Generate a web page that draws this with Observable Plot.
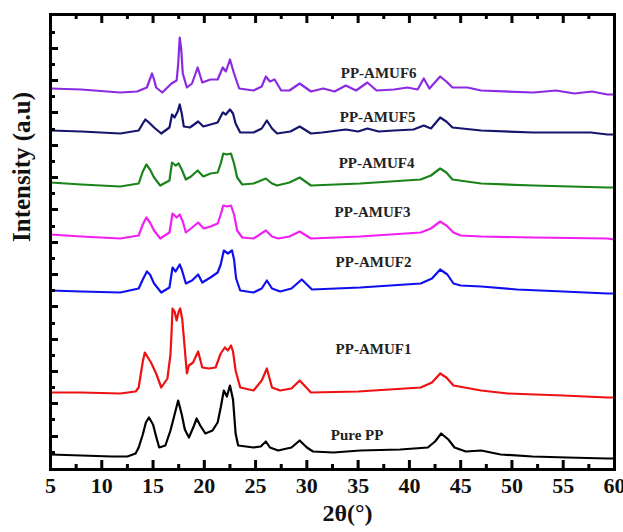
<!DOCTYPE html>
<html><head><meta charset="utf-8">
<script src="https://cdn.jsdelivr.net/npm/d3@7"></script>
<script src="https://cdn.jsdelivr.net/npm/@observablehq/plot@0.6"></script>
<style>body{margin:0;background:#fff;}</style>
</head><body><div id="chart"></div>
<script>
// 2θ (deg) vs intensity (a.u., stacked as displayed)
const purePP = [[5,15],[8,14],[11,13],[12.5,13],[13.3,16],[13.6,22],[14.0,35],[14.3,47],[14.6,52],[15.0,45],[15.3,33],[15.6,22],[16.2,24],[16.7,39],[17.1,55],[17.45,69],[17.8,55],[18.1,40],[18.5,32],[19.0,44],[19.25,51],[19.6,44],[20.1,36],[20.8,39],[21.3,47],[21.6,62],[21.9,79],[22.2,73],[22.5,84],[22.8,70],[23.05,36],[23.3,24],[24.8,22],[25.5,23],[26.0,28],[26.4,22],[27.2,19],[28.5,22],[29.3,29],[30.0,22],[30.6,18],[32.6,17],[35.2,19],[39.1,20],[41.8,22],[42.5,28],[43.1,36],[43.8,30],[44.4,22],[45.5,18],[47.0,19],[48.9,15],[52,13],[55.4,12],[59.3,11],[60,11]];
const amuf1 = [[5,77],[8,77],[11.8,76],[13.3,78],[13.6,82],[14.0,108],[14.2,117],[14.5,112],[14.8,107],[15.3,96],[15.8,82],[16.4,91],[16.7,115],[16.8,136],[16.9,161],[17.1,158],[17.3,149],[17.5,158],[17.65,161],[17.85,150],[18.0,132],[18.3,96],[18.5,104],[18.9,107],[19.4,118],[19.8,102],[20.45,101],[21.1,102],[21.6,116],[22.0,122],[22.3,119],[22.6,124],[22.8,118],[23.05,99],[23.5,82],[24.8,79],[25.6,89],[26.1,101],[26.6,82],[27.4,79],[28.5,81],[29.3,89],[30.4,77],[35,78],[41.1,82],[42.2,87],[43.0,96],[43.6,92],[44.3,84],[47,79],[49.6,76],[55,74],[59.3,72],[60,72]];
const amuf2 = [[5,179],[8,178],[11.8,177],[13.6,181],[14.0,190],[14.4,198],[14.7,195],[15.1,186],[15.8,177],[16.6,182],[16.9,202],[17.2,198],[17.6,205],[17.8,200],[18.2,186],[18.8,189],[19.4,195],[19.8,187],[20.6,192],[21.3,197],[21.6,205],[21.9,219],[22.3,216],[22.7,219],[22.9,210],[23.1,191],[23.5,179],[24.8,177],[25.6,181],[26.1,189],[26.6,181],[27.4,178],[28.5,181],[29.5,190],[30.5,180],[35.2,182],[41.1,186],[42.2,191],[43.0,200],[43.7,195],[44.3,186],[45,184],[47,183],[50.5,180],[55,178],[59.3,176],[60,176]];
const amuf3 = [[5,235],[8,233],[11.8,231],[13.6,234],[14.0,245],[14.35,252],[14.7,247],[15.1,239],[15.7,231],[16.6,237],[16.9,256],[17.3,252],[17.6,255],[17.9,248],[18.2,237],[18.7,241],[19.4,247],[19.95,241],[20.6,243],[21.3,246],[21.6,255],[21.85,264],[22.2,263],[22.6,264],[22.9,255],[23.2,239],[23.7,232],[24.8,231],[26.0,239],[26.6,233],[27.2,231],[28.3,233],[29.3,238],[30.4,231],[35.2,233],[41.1,237],[42.1,241],[43.0,248],[43.6,244],[44.3,237],[45,234],[47,233],[52.1,232],[59.3,231],[60,230]];
const amuf4 = [[5,287],[8,285],[11.8,283],[13.6,286],[14.0,298],[14.35,305],[14.7,300],[15.1,292],[15.7,284],[16.6,289],[16.85,307],[17.2,304],[17.5,306],[17.8,300],[18.2,290],[18.7,293],[19.35,299],[19.9,293],[20.6,296],[21.3,297],[21.6,306],[21.85,316],[22.2,315],[22.6,316],[22.9,306],[23.2,292],[23.7,285],[24.8,286],[26.0,291],[26.6,286],[27.1,284],[28.3,287],[29.3,292],[30.4,284],[35.2,286],[41.1,290],[42.1,294],[43.0,301],[43.6,297],[44.2,290],[47,286],[52.1,284],[59.3,282],[60,282]];
const amuf5 = [[5,339],[8,338],[11.8,336],[13.6,339],[14.0,346],[14.25,350],[14.6,347],[15.1,342],[15.8,336],[16.6,342],[16.85,355],[17.1,352],[17.4,358],[17.6,365],[17.8,356],[18.0,343],[18.6,342],[19.4,348],[19.9,343],[20.6,345],[21.3,347],[21.8,357],[22.1,355],[22.5,360],[22.8,356],[23.05,346],[23.5,337],[24.8,337],[25.6,341],[26.1,349],[26.6,341],[27.1,336],[28.4,338],[29.3,343],[30.4,336],[31.5,337],[33.8,340],[35,338],[35.9,341],[37,338],[38.5,339],[40.4,340],[41.4,344],[42.1,341],[43.0,352],[43.6,348],[44.2,342],[47,339],[52.1,337],[57.7,337],[59.3,335],[60,335]];
const amuf6 = [[5,381],[8,380],[11.8,377],[13.45,378],[14.4,382],[14.65,389],[14.9,396],[15.1,390],[15.3,382],[15.9,377],[16.8,386],[17.3,389],[17.45,405],[17.6,432],[17.75,420],[17.9,396],[18.3,382],[18.8,386],[19.35,402],[19.8,387],[20.6,390],[21.3,390],[21.8,402],[22.1,398],[22.5,410],[22.9,396],[23.4,381],[24.8,379],[25.6,383],[26.0,393],[26.4,388],[26.85,390],[27.5,379],[28.3,379],[29.3,386],[30.4,378],[31.6,381],[32.7,378],[33.8,384],[34.8,379],[35.9,387],[36.8,379],[38.5,380],[39.8,382],[40.8,380],[41.4,391],[41.95,381],[43.0,393],[43.6,388],[44.2,382],[45.65,382],[47,379],[52.1,377],[54.3,379],[56.1,376],[57.8,378],[59.3,375],[60,375]];

const seriesNames = ["Pure PP", "PP-AMUF1", "PP-AMUF2", "PP-AMUF3", "PP-AMUF4", "PP-AMUF5", "PP-AMUF6"];
const seriesData = [purePP, amuf1, amuf2, amuf3, amuf4, amuf5, amuf6];
const seriesColors = ["#000000", "#ee1111", "#1010ee", "#f020f0", "#1a841a", "#15156e", "#8a2be2"];
const labelX = [34.9, 36.5, 36.5, 36.4, 36.8, 36.9, 37.0];
const labelY = [34, 120, 207, 257, 306, 352, 396];

const xMajor = [5, 10, 15, 20, 25, 30, 35, 40, 45, 50, 55, 60];
const xMinor = [7.5, 12.5, 17.5, 22.5, 27.5, 32.5, 37.5, 42.5, 47.5, 52.5, 57.5];
const yMajor = [33, 66, 98, 130, 163, 195, 227, 260, 292, 324, 357, 389, 421];
const yMinor = [17, 50, 82, 114, 146, 179, 211, 243, 276, 308, 340, 373, 405, 437];
const yDomain = [0, 455];

const rows = [];
seriesData.forEach((s, i) => s.forEach(([x, y]) => rows.push({x, y, series: seriesNames[i]})));
const labels = seriesNames.map((name, i) => ({name, x: labelX[i], y: labelY[i]}));

const font = "'Liberation Serif','Times New Roman',serif";
const blank = () => "";
const innerH = 532 - 14 - 63;
const chart = Plot.plot({
  width: 623, height: 532,
  marginLeft: 50, marginRight: 9, marginTop: 14, marginBottom: 63,
  style: {fontFamily: font, background: "#fff"},
  x: {domain: [5, 60], label: null},
  y: {domain: yDomain, label: null},
  color: {domain: seriesNames, range: seriesColors},
  marks: [
    Plot.line(rows, {x: "x", y: "y", z: "series", stroke: "series", strokeWidth: 2.2, strokeLinejoin: "round"}),
    Plot.text(labels, {x: "x", y: "y", text: "name", fontSize: 15, fontWeight: "bold", fill: "#222"}),
    Plot.axisX({ticks: xMajor, tickSize: 0, tickPadding: 8, fontSize: 22, fontWeight: "bold", fill: "#111", label: null}),
    // inward x ticks, bottom and top
    Plot.tickX(xMajor, {x: d => d, insetTop: innerH - 9, stroke: "#000", strokeWidth: 3}),
    Plot.tickX(xMinor, {x: d => d, insetTop: innerH - 5, stroke: "#000", strokeWidth: 3}),
    Plot.tickX(xMajor, {x: d => d, insetBottom: innerH - 9, stroke: "#000", strokeWidth: 3}),
    Plot.tickX(xMinor, {x: d => d, insetBottom: innerH - 5, stroke: "#000", strokeWidth: 3}),
    Plot.axisY({ticks: yMajor, tickSize: -8, tickFormat: blank, strokeWidth: 3, label: null}),
    Plot.axisY({ticks: yMinor, tickSize: -5, tickFormat: blank, strokeWidth: 3, label: null}),
    Plot.frame({strokeWidth: 3}),
    Plot.text(["Intensity (a.u)"], {frameAnchor: "left", rotate: -90, dx: -29, fontSize: 25, fontWeight: "bold", fill: "#111"}),
    Plot.text(["2θ(°)"], {frameAnchor: "bottom", dx: 15, dy: 51, fontSize: 24, fontWeight: "bold", fill: "#111"})
  ]
});
document.getElementById("chart").appendChild(chart);
</script>
</body></html>
